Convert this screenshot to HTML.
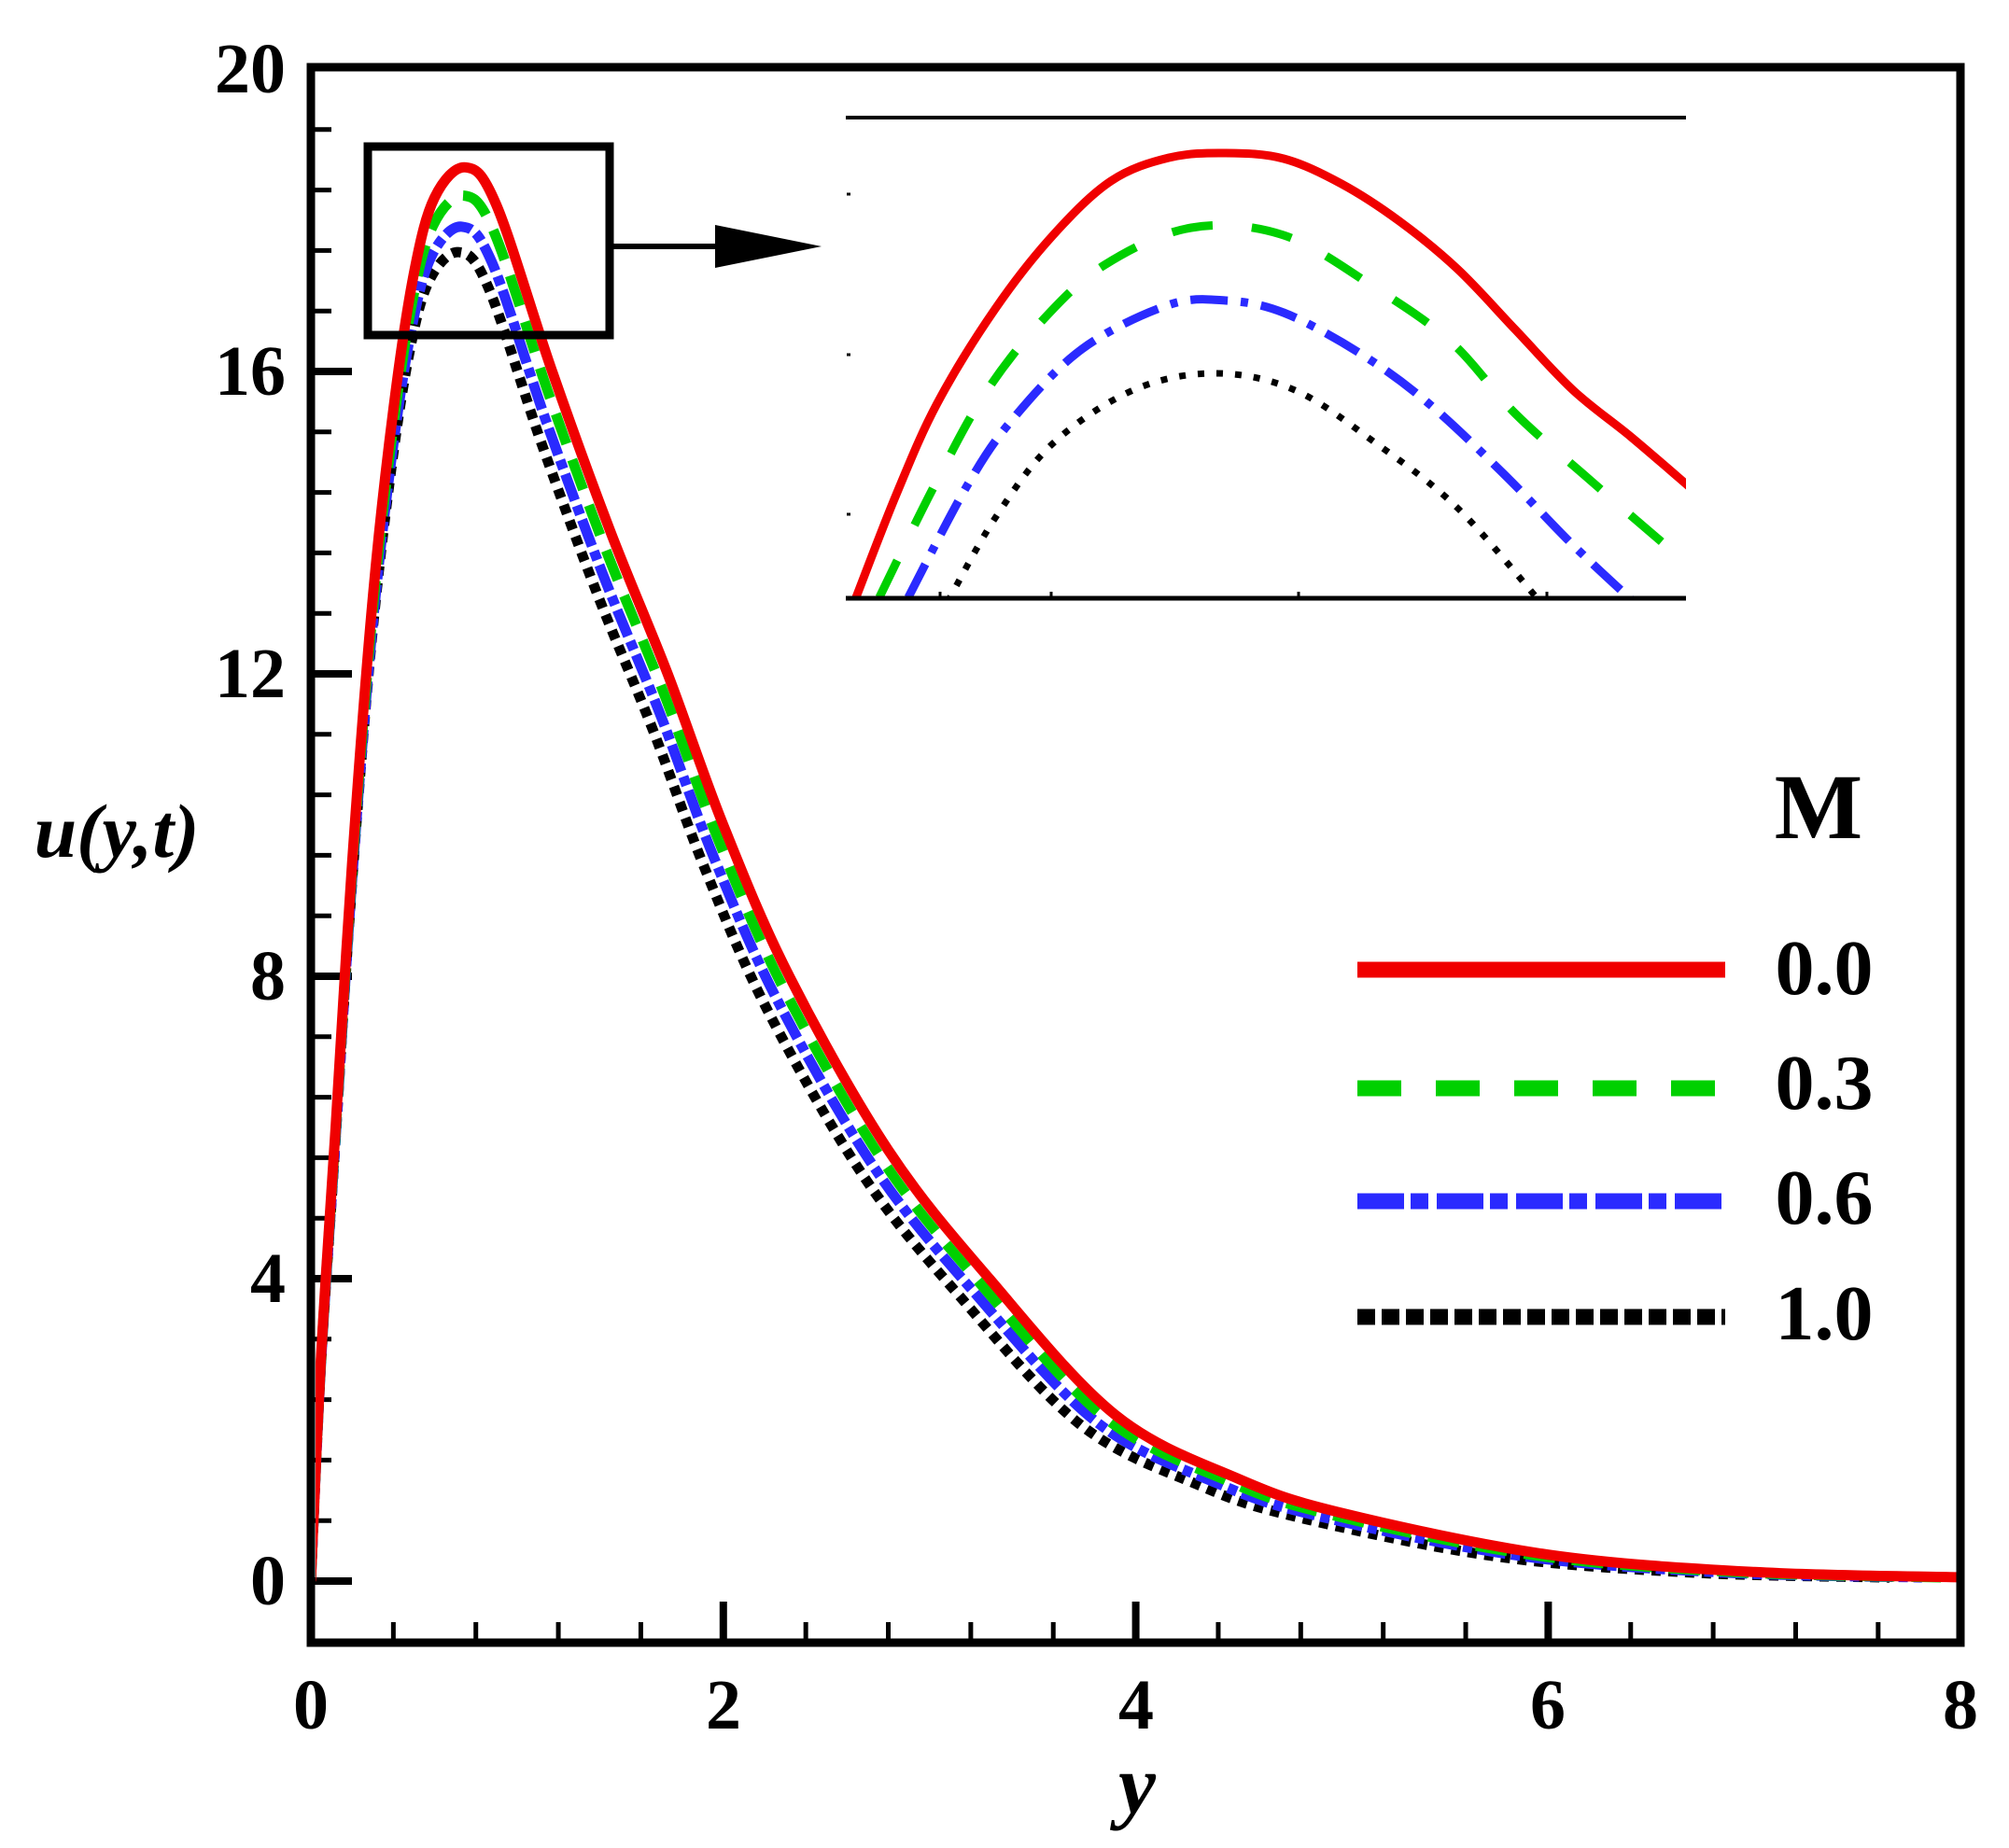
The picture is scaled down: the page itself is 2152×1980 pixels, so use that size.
<!DOCTYPE html>
<html><head><meta charset="utf-8">
<style>
html,body{margin:0;padding:0;background:#fff;}
svg{display:block;}
text{font-family:"Liberation Serif",serif;font-weight:bold;fill:#000;}
</style></head>
<body>
<svg id="s" width="2152" height="1980" viewBox="0 0 2152 1980" xmlns="http://www.w3.org/2000/svg">
<defs>
<clipPath id="pc"><rect x="338" y="77" width="1758" height="1678"/></clipPath>
<clipPath id="ic"><rect x="906" y="126" width="900" height="517"/></clipPath>
</defs>
<g id="ticks"></g>
<g id="main" clip-path="url(#pc)"></g>
<rect x="333" y="72" width="1767" height="1688" fill="none" stroke="#000" stroke-width="9"/>
<rect x="394" y="157" width="259" height="202" fill="none" stroke="#000" stroke-width="9"/>
<line x1="657" y1="264" x2="775" y2="264" stroke="#000" stroke-width="6"/>
<polygon points="766,241 880,264 766,287" fill="#000"/>
<rect x="906" y="126" width="900" height="517" fill="#fff"/>
<line x1="906" y1="126" x2="1806" y2="126" stroke="#000" stroke-width="4"/>
<g id="inset" clip-path="url(#ic)"></g>
<line x1="906" y1="641" x2="1806" y2="641" stroke="#000" stroke-width="5"/>
<g stroke="#000" stroke-width="3">
<line x1="907" y1="208" x2="911" y2="208"/><line x1="907" y1="380" x2="911" y2="380"/><line x1="907" y1="551" x2="911" y2="551"/>
<line x1="1007" y1="634" x2="1007" y2="640"/><line x1="1126" y1="634" x2="1126" y2="640"/><line x1="1391" y1="634" x2="1391" y2="640"/><line x1="1657" y1="634" x2="1657" y2="640"/>
</g>
<text x="1948" y="898" font-size="100" text-anchor="middle">M</text>
<line x1="1454" y1="1039" x2="1848" y2="1039" stroke="#f00000" stroke-width="17"/>
<line x1="1454" y1="1166" x2="1848" y2="1166" stroke="#00d000" stroke-width="17" stroke-dasharray="47 37"/>
<line x1="1454" y1="1287" x2="1848" y2="1287" stroke="#2a2aff" stroke-width="17" stroke-dasharray="50 7 19 9"/>
<line x1="1454" y1="1411" x2="1848" y2="1411" stroke="#000" stroke-width="17" stroke-dasharray="19 7"/>
<g font-size="84" text-anchor="middle">
<text x="1954" y="1065">0.0</text>
<text x="1954" y="1188">0.3</text>
<text x="1954" y="1311">0.6</text>
<text x="1954" y="1435">1.0</text>
</g>
<g font-size="76" text-anchor="end">
<text x="306" y="99">20</text>
<text x="306" y="423">16</text>
<text x="306" y="747">12</text>
<text x="306" y="1071">8</text>
<text x="306" y="1395">4</text>
<text x="306" y="1719">0</text>
</g>
<g font-size="76" text-anchor="middle">
<text x="333" y="1852">0</text>
<text x="775" y="1852">2</text>
<text x="1217" y="1852">4</text>
<text x="1658" y="1852">6</text>
<text x="2100" y="1852">8</text>
</g>
<text x="1218" y="1942" font-size="90" font-style="italic" text-anchor="middle">y</text>
<text x="125" y="918" font-size="82" font-style="italic" text-anchor="middle">u(y,t)</text>
</svg>
<script>
var NS="http://www.w3.org/2000/svg";
function el(p,t,a){var e=document.createElementNS(NS,t);for(var k in a)e.setAttribute(k,a[k]);p.appendChild(e);return e;}
var X0=333,XS=220.9,Y0=1694,YS=81;
var tk=document.getElementById("ticks");
for(var i=0;i<=20;i++){var v=i*0.4,x=X0+v*XS,maj=(i%5==0);
 if(i>0&&i<20) el(tk,"line",{x1:x,y1:1760,x2:x,y2:1760-(maj?44:22),stroke:"#000","stroke-width":maj?8:5});}
for(var i=0;i<25;i++){var v=i*0.8,y=Y0-v*YS,maj=(i%5==0);
 el(tk,"line",{x1:333,y1:y,x2:333+(maj?44:22),y2:y,stroke:"#000","stroke-width":maj?8:5});}
function cr(pts){var d="M"+pts[0][0].toFixed(1)+","+pts[0][1].toFixed(1);
 for(var i=0;i<pts.length-1;i++){var p0=pts[Math.max(0,i-1)],p1=pts[i],p2=pts[i+1],p3=pts[Math.min(pts.length-1,i+2)];
  var c1=[p1[0]+(p2[0]-p0[0])/6,p1[1]+(p2[1]-p0[1])/6],c2=[p2[0]-(p3[0]-p1[0])/6,p2[1]-(p3[1]-p1[1])/6];
  d+=" C"+c1[0].toFixed(1)+","+c1[1].toFixed(1)+" "+c2[0].toFixed(1)+","+c2[1].toFixed(1)+" "+p2[0].toFixed(1)+","+p2[1].toFixed(1);}
 return d;}
var red=[[0,0],[0.05,3],[0.12,6],[0.2,9.5],[0.3,13],[0.4,15.5],[0.5,17.3],[0.6,18.3],[0.75,18.7],[0.9,18.2],[1.17,16],[1.45,13.9],[1.73,12],[2.0,10.0],[2.32,8],[2.8,5.7],[3.29,4],[3.9,2.2],[4.5,1.35],[5,0.9],[6,0.35],[7,0.12],[8,0.05]];
var ser=[
 {c:1.0,s:1.0,col:"#f00000",da:""},
 {c:1.012,s:0.98,col:"#00d000",da:"34 18"},
 {c:1.024,s:0.958,col:"#2a2aff",da:"30 6 10 6"},
 {c:1.045,s:0.94,col:"#000",da:"10 8"}];
var mg=document.getElementById("main");
for(var j=ser.length-1;j>=0;j--){var S=ser[j];
 var pts=red.map(function(p){return [X0+p[0]/S.c*XS,Y0-p[1]*S.s*YS];});
 var a={d:cr(pts),fill:"none",stroke:S.col,"stroke-width":11};
 if(S.da)a["stroke-dasharray"]=S.da;
 el(mg,"path",a);}
var ins=[
 {col:"#f00000",da:"",p:[[917,640],[960,530],[1004,432],[1066,331],[1128,252],[1190,194],[1252,169],[1313,164],[1375,170],[1437,197],[1499,237],[1561,288],[1623,353],[1685,418],[1747,468],[1810,522]]},
 {col:"#00d000",da:"44 42",p:[[942,640],[998,526],[1053,425],[1115,345],[1183,284],[1276,244],[1375,252],[1474,309],[1555,367],[1623,443],[1704,515],[1784,584],[1810,604]]},
 {col:"#2a2aff",da:"40 14 8 14",p:[[973,640],[1035,522],[1084,450],[1159,374],[1251,327],[1313,322],[1375,335],[1456,378],[1530,432],[1611,508],[1685,584],[1750,645]]},
 {col:"#000",da:"7 13",p:[[1015,645],[1066,555],[1128,475],[1214,418],[1301,400],[1387,418],[1474,475],[1561,544],[1650,645]]}];
var ig=document.getElementById("inset");
ins.forEach(function(S){var a={d:cr(S.p),fill:"none",stroke:S.col,"stroke-width":S.col=="#000"?7:9};
 if(S.da)a["stroke-dasharray"]=S.da; el(ig,"path",a);});
</script>
</body></html>
